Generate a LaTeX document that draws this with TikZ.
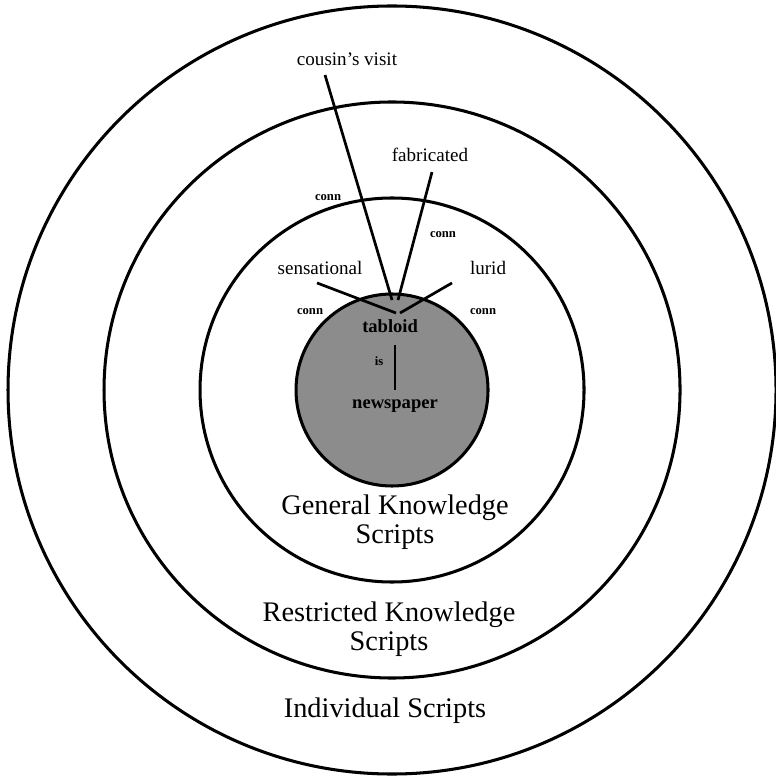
\documentclass[tikz,border=0pt]{standalone}
\usepackage{fontspec}
\setmainfont{Liberation Serif}
\usetikzlibrary{positioning}

\begin{document}
\begin{tikzpicture}[
  ring/.style={line width=1.8pt},
  link/.style={line width=1.6pt},
  word/.style={anchor=base, inner sep=0pt, font=\fontsize{11.3}{13}\selectfont},
  connlbl/.style={anchor=base, inner sep=0pt, font=\fontsize{7.5}{9}\selectfont\bfseries},
  scriptlbl/.style={anchor=base, inner sep=0pt, font=\fontsize{16.8}{18}\selectfont}
]
  \useasboundingbox (-8.167,-8.104) rectangle (7.979,8.125);

  % the four script levels
  \draw[ring] (0,0) circle (8);
  \draw[ring] (0,0) circle (6);
  \draw[ring] (0,0) circle (4);
  \filldraw[ring, fill=black!45] (0,0) circle (2);

  % connector ends
  \coordinate (cvStart)  at (-1.396,6.5625);  \coordinate (cvEnd)  at (0,1.875);
  \coordinate (fabStart) at (0.833,4.54);     \coordinate (fabEnd) at (0.125,1.875);
  \coordinate (senStart) at (-1.5625,2.23);   \coordinate (senEnd) at (0.083,1.604);
  \coordinate (lurStart) at (1.25,2.23);      \coordinate (lurEnd) at (0.167,1.604);
  \coordinate (isTop)    at (0.0625,0.9375);  \coordinate (isBot)  at (0.0625,0);

  \draw[link] (cvStart) -- (cvEnd);
  \draw[link] (fabStart) -- (fabEnd);
  \draw[link] (senStart) -- (senEnd);
  \draw[link] (lurStart) -- (lurEnd);
  \draw[link] (isTop) -- (isBot);

  % labels
  \node[word] (cousin) at (-0.9375,6.77) {cousin's visit};
  \node[word] (fabric) at (0.79,4.75) {fabricated};
  \node[word] (sensat) at (-1.5,2.396) {sensational};
  \node[word] (lurid)  at (2.0,2.396) {lurid};
  \node[connlbl] (connA) at (-1.333,3.958) {conn};
  \node[connlbl] (connB) at (1.0625,3.167) {conn};
  \node[connlbl] (connC) at (-1.708,1.5625) {conn};
  \node[connlbl] (connD) at (1.896,1.5625) {conn};
  \node[word, font=\fontsize{11}{12}\selectfont\bfseries] (tabloid) at (-0.04,1.208) {tabloid};
  \node[connlbl] (isLbl) at (-0.27,0.5) {is};
  \node[word, font=\fontsize{11}{12}\selectfont\bfseries] (paper) at (0.0625,-0.375) {newspaper};

  \node[scriptlbl] (general)     at (0.0625,-2.604) {General Knowledge};
  \node[scriptlbl] (generalS)    at (0.0625,-3.1875) {Scripts};
  \node[scriptlbl] (restricted)  at (-0.0625,-4.833) {Restricted Knowledge};
  \node[scriptlbl] (restrictedS) at (-0.0625,-5.417) {Scripts};
  \node[scriptlbl] (individual)  at (-0.146,-6.833) {Individual Scripts};
\end{tikzpicture}
\end{document}
